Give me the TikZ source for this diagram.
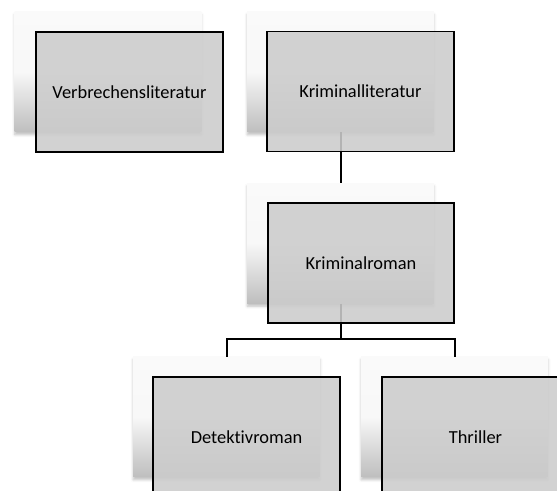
\documentclass[tikz,border=0pt]{standalone}
\usepackage{fontspec}
\setmainfont{Carlito}[Ligatures=NoCommon]
\usetikzlibrary{shadows.blur}

\definecolor{backtop}{RGB}{250,250,250}
\definecolor{backbot}{RGB}{190,190,190}
\definecolor{frontfill}{RGB}{204,204,204}

\tikzset{
  backbox/.style={rectangle, minimum width=140pt, minimum height=90pt, inner sep=0pt,
    top color=backtop, bottom color=backbot, middle color=backtop!96!backbot,
    blur shadow={shadow xshift=0pt, shadow yshift=-2pt, shadow blur radius=2pt, shadow opacity=25}},
  frontbox/.style={rectangle, draw=black, line width=1.4pt, fill=frontfill, fill opacity=0.88,
    text opacity=1, minimum width=140pt, minimum height=90pt, inner sep=0pt,
    font=\fontsize{13.8}{16}\selectfont},
  link/.style={draw=black, line width=1.5pt}
}

\begin{document}
\begin{tikzpicture}[x=0.75pt,y=-0.75pt]
\useasboundingbox (0,0) rectangle (557,491);
\clip (0,0) rectangle (557,491);

\node[backbox] (verb-b) at (108,72) {};
\node[backbox] (krimlit-b) at (340.5,72) {};
\node[backbox] (krimrom-b) at (340.5,243.5) {};
\node[backbox] (detektiv-b) at (226.5,417) {};
\node[backbox] (thriller-b) at (454.5,417) {};

\coordinate (fork) at (340.5,339);
\draw[link] (krimlit-b.south) -- (krimrom-b.north);
\draw[link] (krimrom-b.south) -- (fork);
\draw[link] (detektiv-b.north) |- (fork) -| (thriller-b.north);

\node[frontbox] (verb) at (129.5,92) {Verbrechensliteratur};
\node[frontbox] (krimlit) at (360.5,91.5) {Kriminalliteratur};
\node[frontbox] (krimrom) at (361,263) {Kriminalroman};
\node[frontbox] (detektiv) at (246.5,437) {Detektivroman};
\node[frontbox] (thriller) at (475.5,437) {Thriller};

\end{tikzpicture}
\end{document}
